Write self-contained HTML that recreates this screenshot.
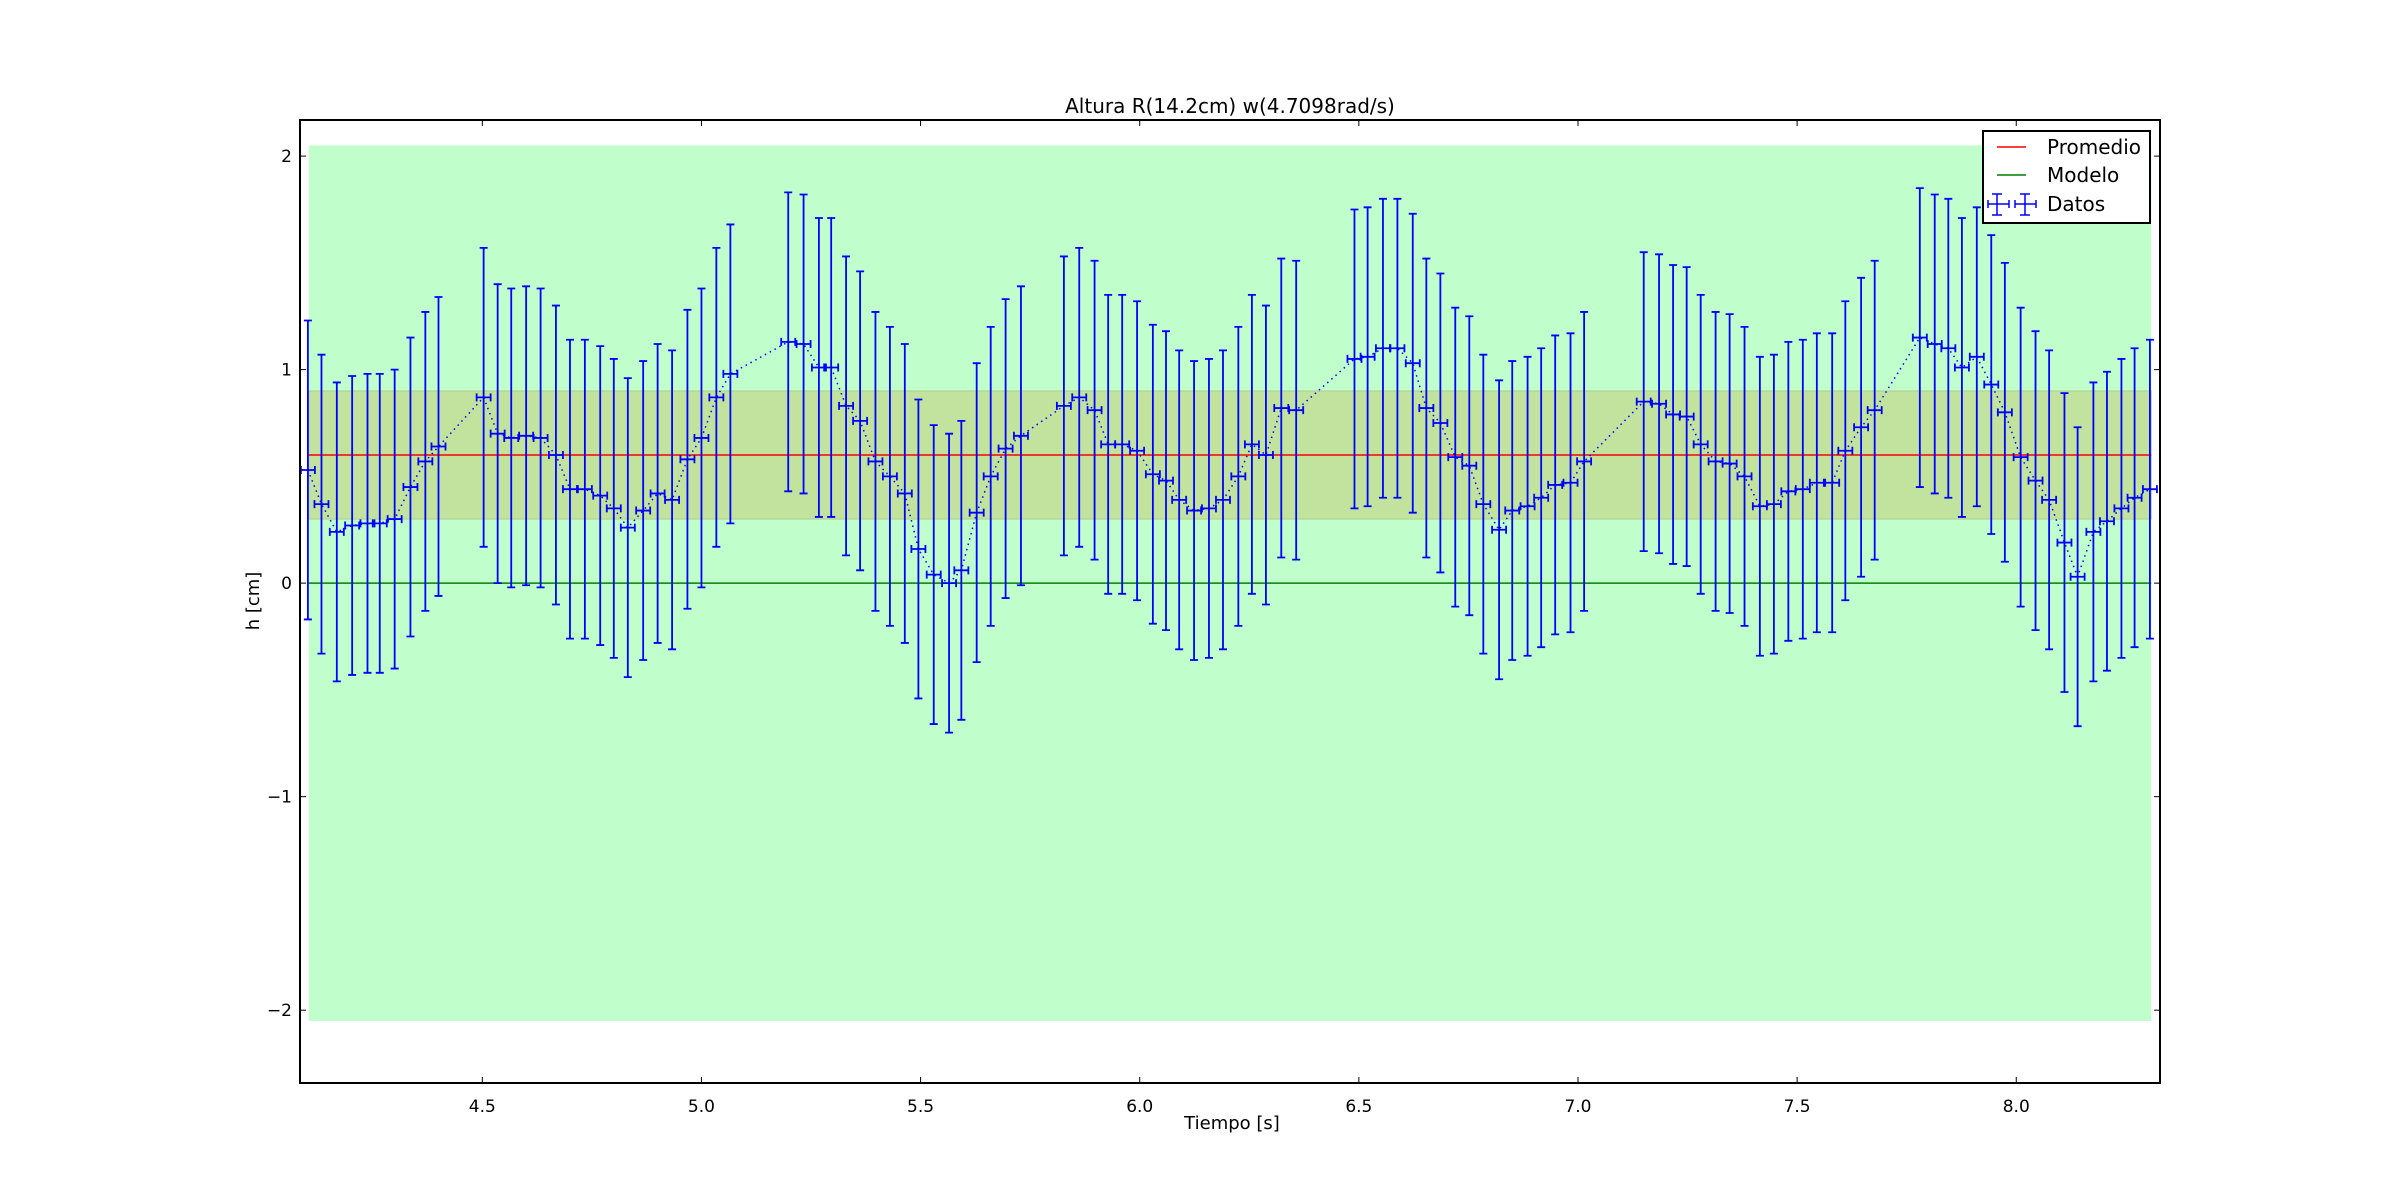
<!DOCTYPE html>
<html><head><meta charset="utf-8"><style>
html,body{margin:0;padding:0;background:#fff;}
svg{display:block;font-family:"DejaVu Sans","Liberation Sans",sans-serif;}
</style></head><body>
<svg id="chart" width="2400" height="1203" viewBox="0 0 2400 1203" xmlns="http://www.w3.org/2000/svg">
<rect x="0" y="0" width="2400" height="1203" fill="#fff"/>
<g id="plot"></g>
<text x="1230" y="113" font-size="20" text-anchor="middle">Altura R(14.2cm) w(4.7098rad/s)</text>
<text x="1232" y="1129" font-size="18" text-anchor="middle">Tiempo [s]</text>
<text x="0" y="0" font-size="18" text-anchor="middle" transform="translate(259,601) rotate(-90)">h [cm]</text>
<g>
<rect x="1983" y="131" width="167" height="92" fill="#fff" stroke="#000" stroke-width="2"/>
<line x1="1997" y1="147" x2="2026" y2="147" stroke="#f00" stroke-width="1.5"/>
<text x="2047" y="154" font-size="20">Promedio</text>
<line x1="1997" y1="175" x2="2026" y2="175" stroke="#008000" stroke-width="1.5"/>
<text x="2047" y="182" font-size="20">Modelo</text>
<g stroke="#00f" stroke-width="1.5">
<line x1="1988" y1="204" x2="2009" y2="204"/><line x1="1997" y1="194" x2="1997" y2="215"/><line x1="1992" y1="194" x2="2002" y2="194"/><line x1="1992" y1="215" x2="2002" y2="215"/><line x1="1988" y1="200" x2="1988" y2="208"/><line x1="2009" y1="200" x2="2009" y2="208"/>
<line x1="2015" y1="204" x2="2036" y2="204"/><line x1="2025" y1="194" x2="2025" y2="215"/><line x1="2020" y1="194" x2="2030" y2="194"/><line x1="2020" y1="215" x2="2030" y2="215"/><line x1="2015" y1="200" x2="2015" y2="208"/><line x1="2036" y1="200" x2="2036" y2="208"/>
</g>
<text x="2047" y="211" font-size="20">Datos</text>
</g>
</svg>
<script>
const times = [4.102,4.133,4.168,4.203,4.238,4.266,4.30,4.336,4.37,4.40,4.503,4.535,4.566,4.60,4.633,4.668,4.70,4.734,4.769,4.80,4.832,4.867,4.90,4.933,4.968,5.0,5.034,5.066,5.198,5.233,5.268,5.296,5.33,5.362,5.397,5.43,5.464,5.495,5.53,5.565,5.593,5.628,5.66,5.694,5.729,5.827,5.862,5.897,5.928,5.96,5.994,6.03,6.06,6.09,6.124,6.158,6.19,6.225,6.256,6.288,6.323,6.357,6.49,6.52,6.555,6.588,6.623,6.654,6.686,6.72,6.752,6.784,6.82,6.85,6.885,6.916,6.948,6.983,7.014,7.15,7.185,7.217,7.248,7.28,7.314,7.346,7.38,7.415,7.447,7.48,7.513,7.545,7.58,7.61,7.646,7.677,7.78,7.814,7.845,7.876,7.91,7.943,7.974,8.01,8.044,8.075,8.11,8.14,8.176,8.207,8.24,8.27,8.305];
const heights = [0.53,0.37,0.24,0.27,0.28,0.28,0.30,0.45,0.57,0.64,0.87,0.70,0.68,0.69,0.68,0.60,0.44,0.44,0.41,0.35,0.26,0.34,0.42,0.39,0.58,0.68,0.87,0.98,1.13,1.12,1.01,1.01,0.83,0.76,0.57,0.50,0.42,0.16,0.04,0.00,0.06,0.33,0.50,0.63,0.69,0.83,0.87,0.81,0.65,0.65,0.62,0.51,0.48,0.39,0.34,0.35,0.39,0.50,0.65,0.60,0.82,0.81,1.05,1.06,1.10,1.10,1.03,0.82,0.75,0.59,0.55,0.37,0.25,0.34,0.36,0.40,0.46,0.47,0.57,0.85,0.84,0.79,0.78,0.65,0.57,0.56,0.50,0.36,0.37,0.43,0.44,0.47,0.47,0.62,0.73,0.81,1.15,1.12,1.10,1.01,1.06,0.93,0.80,0.59,0.48,0.39,0.19,0.03,0.24,0.29,0.35,0.40,0.44];
const yErr = 0.70;
const xErr = 0.016;
const promedio = 0.6;
const promedioBand = [0.3, 0.9];
const modelo = 0;
const outerBand = [-2.05, 2.05];
const bandTime = [4.104, 8.308];
const xTicks = [4.5,5.0,5.5,6.0,6.5,7.0,7.5,8.0];
const xTickLabels = ["4.5","5.0","5.5","6.0","6.5","7.0","7.5","8.0"];
const yTicks = [-2,-1,0,1,2];
const yTickLabels = ["\u22122","\u22121","0","1","2"];

const L=300,R=2160,T=120,B=1083;
const xmin=4.084,xmax=8.328,ymin=-2.341,ymax=2.169;
const sx=v=>L+(v-xmin)/(xmax-xmin)*(R-L);
const sy=v=>T+(ymax-v)/(ymax-ymin)*(B-T);
const NS="http://www.w3.org/2000/svg";
const g=document.getElementById('plot');
function mk(tag,attrs,parent){const e=document.createElementNS(NS,tag);for(const k in attrs)e.setAttribute(k,attrs[k]);(parent||g).appendChild(e);return e;}

let e=mk('rect',{x:sx(bandTime[0]),y:sy(outerBand[1]),width:sx(bandTime[1])-sx(bandTime[0]),height:sy(outerBand[0])-sy(outerBand[1]),fill:'#c0ffcb'});


e=mk('rect',{x:sx(bandTime[0]),y:sy(promedioBand[1]),width:sx(bandTime[1])-sx(bandTime[0]),height:sy(promedioBand[0])-sy(promedioBand[1]),fill:'#c1e39e',stroke:'#b0cc90','stroke-width':1});


e=mk('line',{x1:sx(bandTime[0]),x2:sx(bandTime[1]),y1:sy(promedio),y2:sy(promedio),stroke:'#f00','stroke-width':1.5});


e=mk('line',{x1:sx(bandTime[0]),x2:sx(bandTime[1]),y1:sy(modelo),y2:sy(modelo),stroke:'#008000','stroke-width':1.5});



let pts=times.map((t,i)=>sx(t).toFixed(1)+','+sy(heights[i]).toFixed(1)).join(' ');
e=mk('polyline',{points:pts,fill:'none',stroke:'#00f','stroke-width':1.5,'stroke-dasharray':'1.5,4'});


const eg=mk('g',{stroke:'#00f','stroke-width':1.8});


times.forEach((t,i)=>{
  const cx=sx(t),cy=sy(heights[i]),y1=sy(heights[i]+yErr),y2=sy(heights[i]-yErr),x1=sx(t-xErr),x2=sx(t+xErr);
  const p=mk('path',{d:`M${cx},${y1}V${y2}M${cx-4},${y1}H${cx+4}M${cx-4},${y2}H${cx+4}M${x1},${cy}H${x2}M${x1},${cy-4}V${cy+4}M${x2},${cy-4}V${cy+4}`,fill:'none'},eg);
  
  
});

e=mk('rect',{x:L,y:T,width:R-L,height:B-T,fill:'none',stroke:'#000','stroke-width':2});


xTicks.forEach((v,i)=>{
  const x=sx(v);
  mk('line',{x1:x,x2:x,y1:B,y2:B-6,stroke:'#000','stroke-width':1});
  mk('line',{x1:x,x2:x,y1:T,y2:T+6,stroke:'#000','stroke-width':1});
  const tx=mk('text',{x:x,y:B+29,'font-size':17,'text-anchor':'middle'});
  tx.textContent=xTickLabels[i];
  
  
});
yTicks.forEach((v,i)=>{
  const y=sy(v);
  mk('line',{x1:L,x2:L+6,y1:y,y2:y,stroke:'#000','stroke-width':1});
  mk('line',{x1:R,x2:R-6,y1:y,y2:y,stroke:'#000','stroke-width':1});
  const tx=mk('text',{x:L-8,y:y+6,'font-size':17,'text-anchor':'end'});
  tx.textContent=yTickLabels[i];
  
  
});
</script>
</body></html>
